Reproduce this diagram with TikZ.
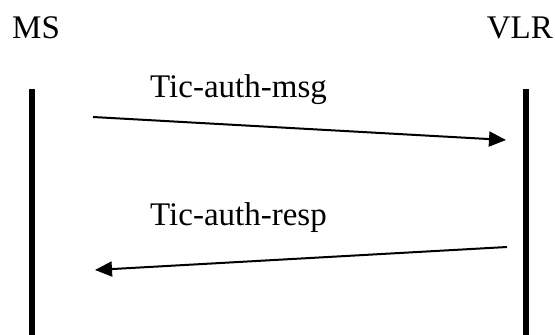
\documentclass[tikz,border=0pt]{standalone}
\usepackage{fontspec}
\setmainfont{Liberation Serif}
\usetikzlibrary{arrows.meta}
\tikzset{every node/.style={font=\fontsize{33}{38}\selectfont,inner sep=0pt},line cap=butt,line join=round,
  lifeline/.style={line width=5.5pt},
  msg/.style={line width=2pt,-{Triangle[length=17pt,width=15pt]}}}

\begin{document}
\begin{tikzpicture}[x=1pt,y=-1pt]
  \path[use as bounding box] (0,0) rectangle (555,335);
  % the two parties
  \node[anchor=base west] (ms) at (12,38) {MS};
  \node[anchor=base east] (vlr) at (553,38) {VLR};
  \coordinate (msTop) at (32,89);
  \coordinate (msBot) at (32,335);
  \coordinate (vlrTop) at (526,89);
  \coordinate (vlrBot) at (526,335);
  \draw[lifeline] (msTop) -- (msBot);
  \draw[lifeline] (vlrTop) -- (vlrBot);
  % messages
  \coordinate (req0) at (93,117);
  \coordinate (req1) at (506,140);
  \coordinate (resp0) at (507,247);
  \coordinate (resp1) at (95,270);
  \draw[msg] (req0) -- (req1);
  \draw[msg] (resp0) -- (resp1);
  \node[anchor=base west] (reqLabel) at (150,97) {Tic-auth-msg};
  \node[anchor=base west] (respLabel) at (150,225) {Tic-auth-resp};
\end{tikzpicture}
\end{document}
